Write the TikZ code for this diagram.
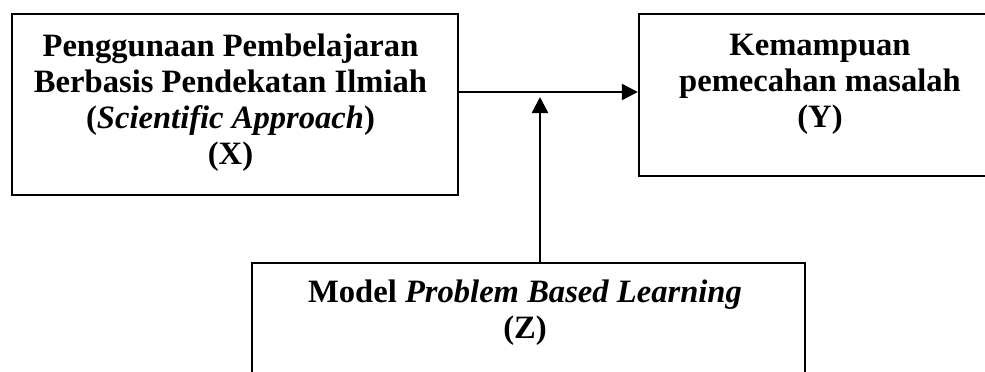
\documentclass[tikz,border=0pt]{standalone}
\usepackage{fontspec}
\setmainfont{Liberation Serif}
\usetikzlibrary{arrows.meta}
\begin{document}
\begin{tikzpicture}[x=0.5pt,y=-0.5pt,
  box/.style={draw, line width=1.2pt, rectangle, inner sep=0pt},
  lbl/.style={anchor=base, inner sep=0pt, font=\fontsize{16.3}{18}\selectfont\bfseries},
  link/.style={line width=1.2pt, -{Triangle[length=8pt,width=8pt]}}]
\useasboundingbox (0,0) rectangle (985,371);
\clip (0,0) rectangle (985,371);
% frames
\node[box, minimum width=223pt, minimum height=90.5pt] (xbox) at (235,104.5) {};
\node[box, minimum width=180.5pt, minimum height=81pt] (ybox) at (819.5,95) {};
\node[box, minimum width=276.5pt, minimum height=63.5pt] (zbox) at (528.5,326.5) {};
% captions
\node[lbl] (xtext) at (230.5,56) {\begin{tabular}[t]{@{}c@{}}Penggunaan Pembelajaran\\ Berbasis Pendekatan Ilmiah\\ (\textit{Scientific Approach})\\ (X)\end{tabular}};
\node[lbl] (ytext) at (820,55) {\begin{tabular}[t]{@{}c@{}}Kemampuan\\ pemecahan masalah\\ (Y)\end{tabular}};
\node[lbl] (ztext) at (525,302) {\begin{tabular}[t]{@{}c@{}}Model \textit{Problem Based Learning}\\ (Z)\end{tabular}};
% connectors
\coordinate (hy) at (0,92);
\coordinate (tip) at (540,97);
\draw[link] (xbox.east |- hy) -- (ybox.west |- hy);
\draw[link] (zbox.north -| tip) -- (tip);
\end{tikzpicture}
\end{document}
